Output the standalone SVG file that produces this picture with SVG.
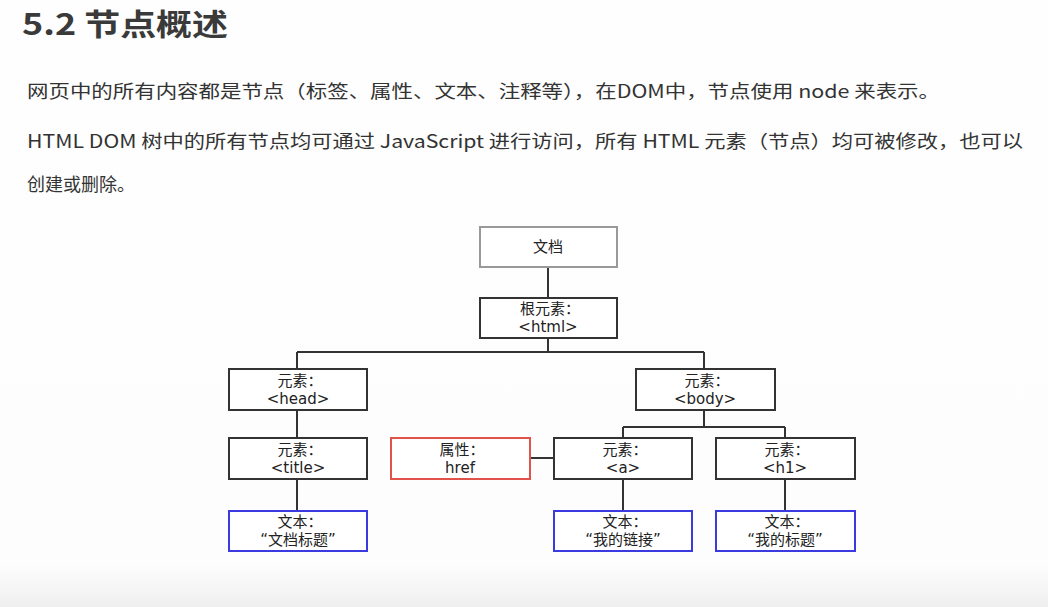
<svg xmlns="http://www.w3.org/2000/svg" width="1048" height="607" viewBox="0 0 1048 607">
<defs>
<linearGradient id="bg" x1="0" y1="0" x2="0" y2="1">
<stop offset="0" stop-color="#fdfefd"/>
<stop offset="0.93" stop-color="#fcfdfc"/>
<stop offset="1" stop-color="#eeefee"/>
</linearGradient>
<style>
.h{font-family:"Noto Sans CJK SC","Noto Sans",sans-serif;font-weight:bold;font-size:30px;fill:#3a3a3a}
.p{font-family:"Noto Sans CJK SC","Noto Sans",sans-serif;font-size:18px;fill:#333}
.box{fill:#fff;stroke:#333;stroke-width:2}
.doc{fill:#fff;stroke:#999;stroke-width:2}
.attr{fill:#fff;stroke:#e0524a;stroke-width:2}
.txt{fill:#fff;stroke:#3a3ae0;stroke-width:2}
.t{font-family:"DejaVu Sans","Noto Sans CJK SC",sans-serif;font-size:15px;fill:#222;text-anchor:middle}
.c{fill:none;stroke:#333;stroke-width:2}
</style>
</defs>
<rect width="1048" height="607" fill="url(#bg)"/>
<text class="h" x="22" y="35" textLength="206" lengthAdjust="spacingAndGlyphs">5.2 节点概述</text>
<text class="p" x="27" y="98" textLength="913" lengthAdjust="spacingAndGlyphs">网页中的所有内容都是节点（标签、属性、文本、注释等），在DOM中，节点使用 node 来表示。</text>
<text class="p" x="27" y="148" textLength="996" lengthAdjust="spacingAndGlyphs">HTML DOM 树中的所有节点均可通过 JavaScript 进行访问，所有 HTML 元素（节点）均可被修改，也可以</text>
<text class="p" x="27" y="191">创建或删除。</text>
<g id="connectors">
<path class="c" d="M548 267V298M548 338V352M297 352H704M297 352V369M704 352V369M704 410V427M623 427H785M623 427V438M785 427V438M297 410V438M297 479V511M623 479V511M785 479V511M530 458H554"/>
</g>
<g id="n-doc"><rect class="doc" x="480" y="227" width="137" height="40"/><text class="t" x="548" y="252">文档</text></g>
<g id="n-html"><rect class="box" x="480" y="298" width="137" height="40"/><text class="t" x="550" y="314">根元素：</text><text class="t" x="548" y="332">&lt;html&gt;</text></g>
<g id="n-head"><rect class="box" x="229" y="369" width="138" height="41"/><text class="t" x="300" y="386">元素：</text><text class="t" x="298" y="404">&lt;head&gt;</text></g>
<g id="n-body"><rect class="box" x="636" y="369" width="139" height="41"/><text class="t" x="707" y="386">元素：</text><text class="t" x="705" y="404">&lt;body&gt;</text></g>
<g id="n-title"><rect class="box" x="229" y="438" width="138" height="41"/><text class="t" x="300" y="455">元素：</text><text class="t" x="298" y="473">&lt;title&gt;</text></g>
<g id="n-href"><rect class="attr" x="391" y="438" width="139" height="41"/><text class="t" x="462" y="455">属性：</text><text class="t" x="460" y="473">href</text></g>
<g id="n-a"><rect class="box" x="554" y="438" width="138" height="41"/><text class="t" x="625" y="455">元素：</text><text class="t" x="623" y="473">&lt;a&gt;</text></g>
<g id="n-h1"><rect class="box" x="716" y="438" width="139" height="41"/><text class="t" x="787" y="455">元素：</text><text class="t" x="785" y="473">&lt;h1&gt;</text></g>
<g id="n-t1"><rect class="txt" x="229" y="511" width="138" height="40"/><text class="t" x="300" y="527">文本：</text><text class="t" x="298" y="545">“文档标题”</text></g>
<g id="n-t2"><rect class="txt" x="554" y="511" width="138" height="40"/><text class="t" x="625" y="527">文本：</text><text class="t" x="623" y="545">“我的链接”</text></g>
<g id="n-t3"><rect class="txt" x="716" y="511" width="139" height="40"/><text class="t" x="787" y="527">文本：</text><text class="t" x="785" y="545">“我的标题”</text></g>
</svg>
